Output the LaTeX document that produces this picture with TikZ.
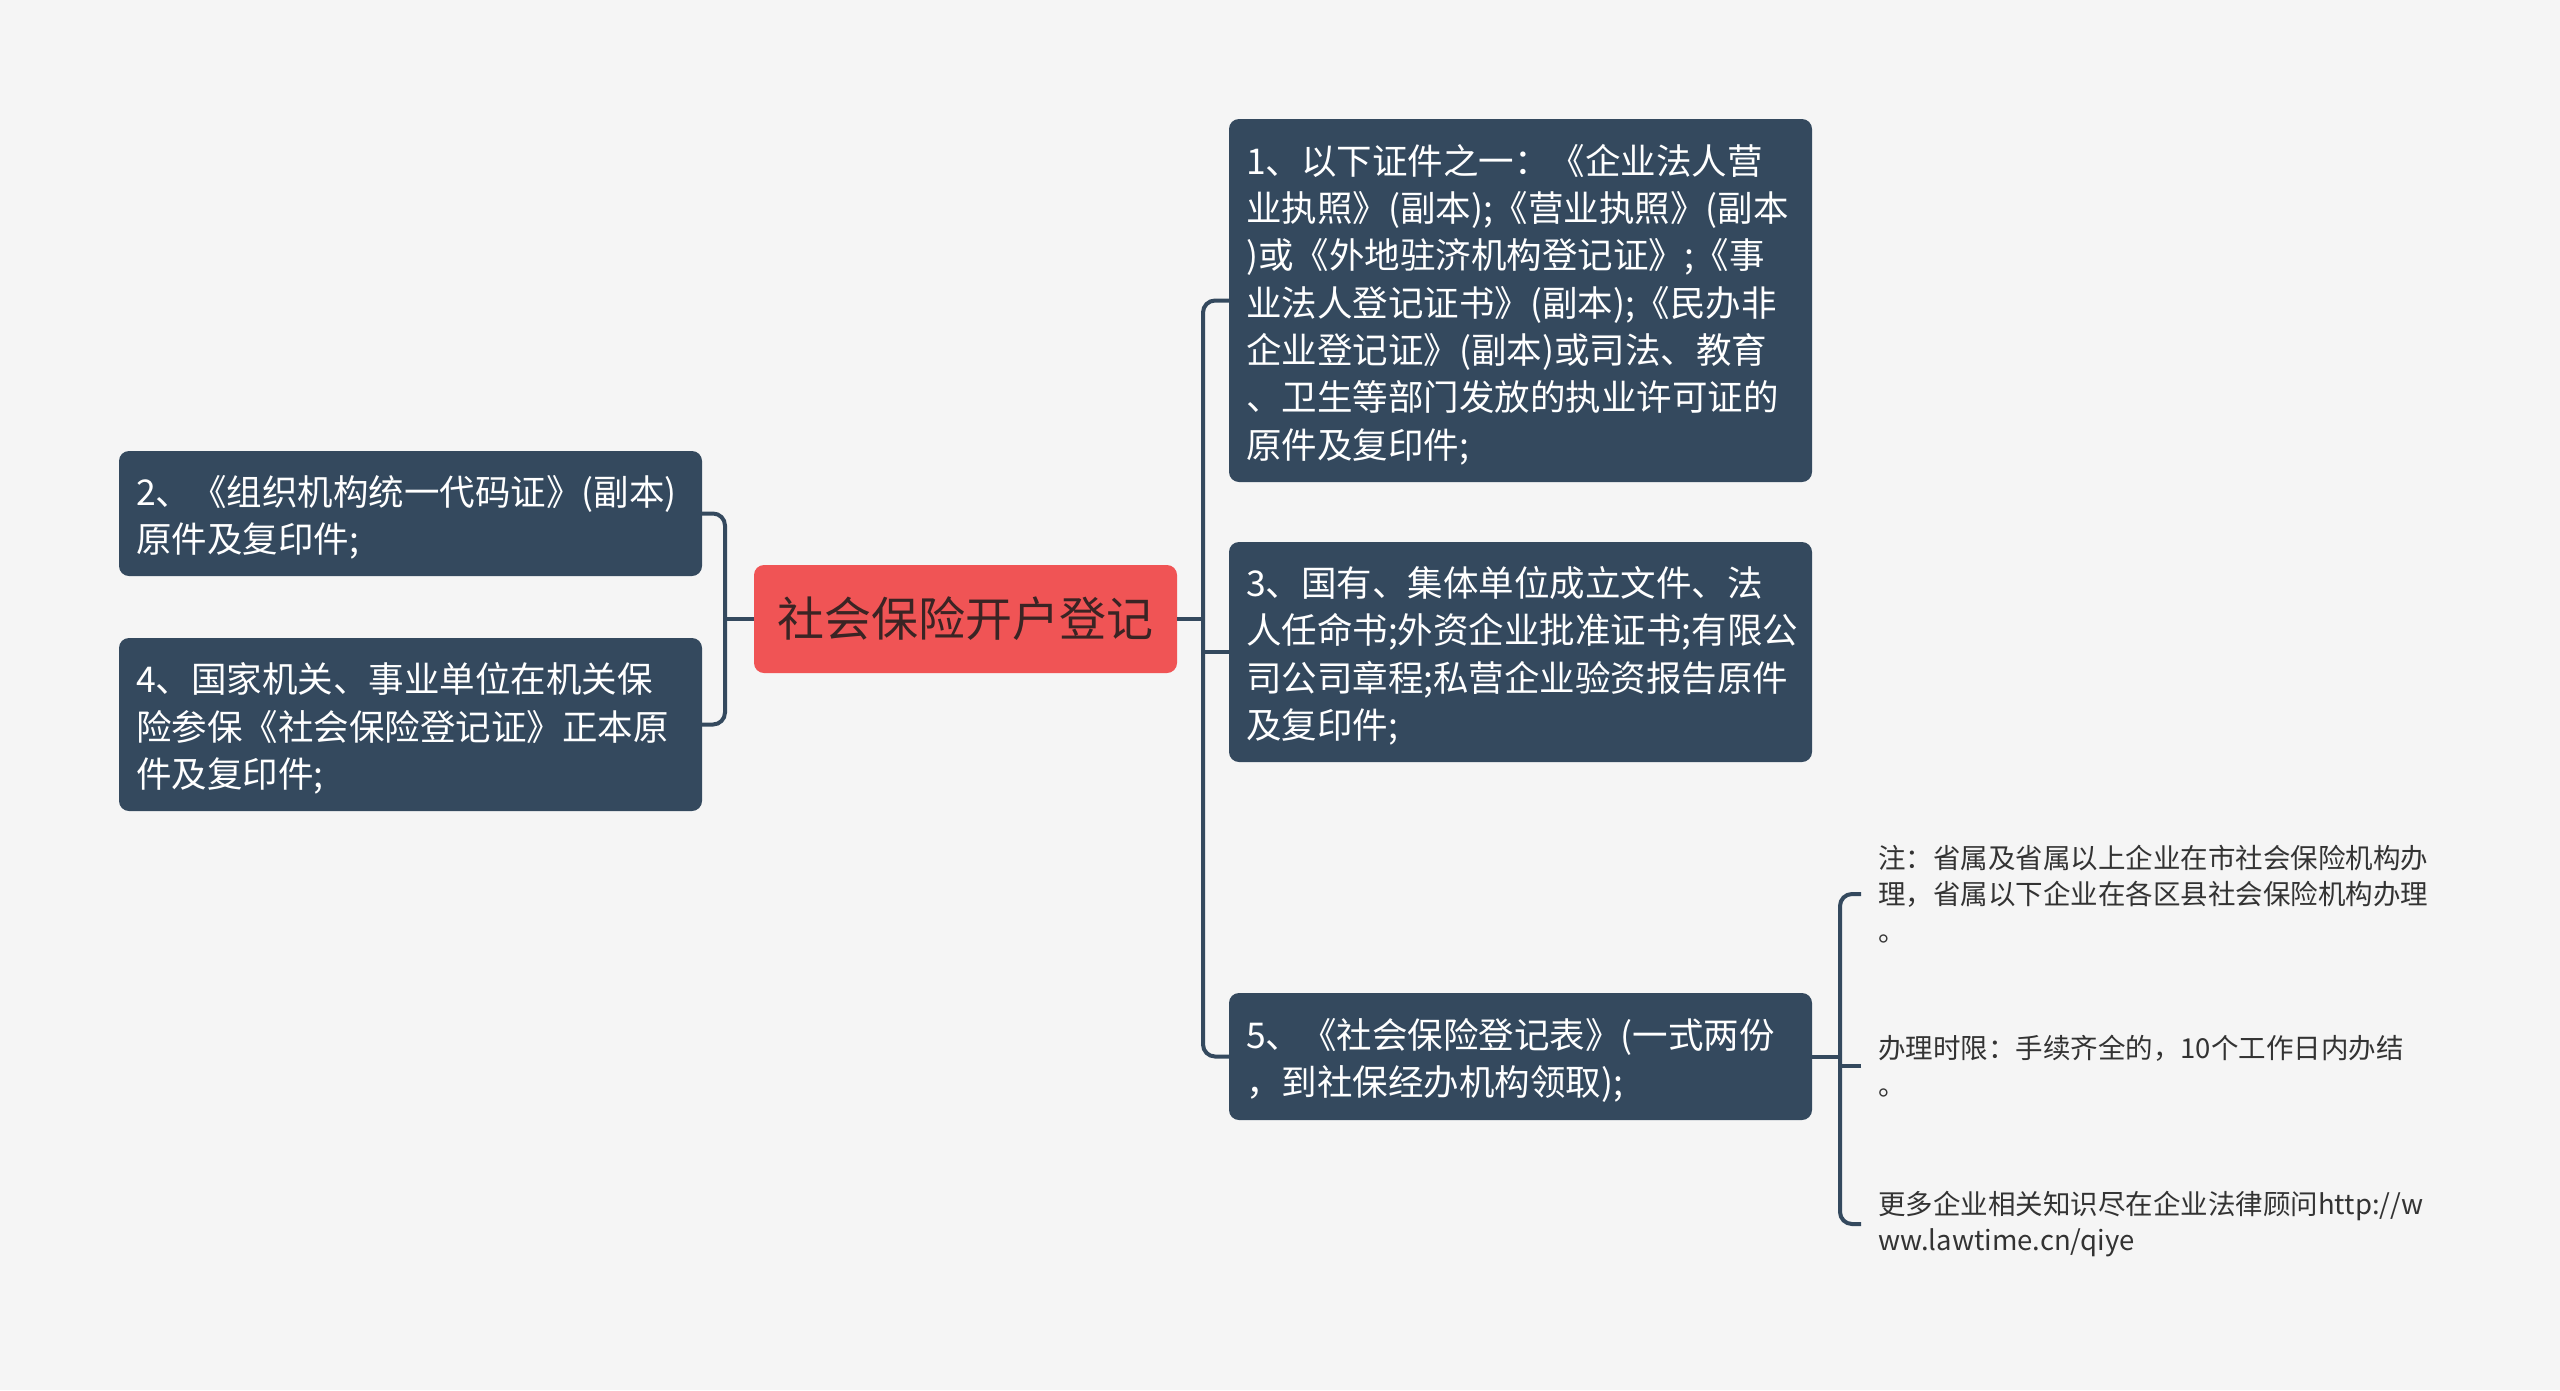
\documentclass[tikz,border=0pt]{standalone}
\usepackage{fontspec}
\setmainfont{Noto Sans CJK SC}
\definecolor{bgcol}{HTML}{F5F5F5}
\definecolor{nodecol}{HTML}{34495E}
\definecolor{rootcol}{HTML}{F05455}
\definecolor{roottext}{HTML}{3A2424}
\definecolor{leaftext}{HTML}{333333}
\tikzset{
  box/.style={fill=nodecol, rounded corners=10pt, text=white,
    font=\fontsize{35.5}{47.3}\selectfont, align=left,
    inner xsep=17pt, inner ysep=8pt, text width=549pt,
    execute at begin node={\rule{0pt}{38pt}}},
  rootbox/.style={fill=rootcol, rounded corners=10pt, text=roottext,
    font=\fontsize{47}{56}\selectfont, minimum width=423pt, minimum height=108pt,
    inner sep=0pt},
  leaf/.style={text=leaftext, font=\fontsize{27.5}{36.5}\selectfont, align=left,
    inner xsep=17pt, inner ysep=2pt, anchor=west},
  conn/.style={draw=nodecol, line width=4pt, rounded corners=12pt}
}
\begin{document}
\begin{tikzpicture}[x=1pt,y=-1pt]
\fill[bgcol] (0,0) rectangle (2560,1390);
\useasboundingbox (0,0) rectangle (2560,1390);

\node[rootbox] (root) at (965.5,619) {社会保险开户登记};

\node[box, minimum height=363pt] (n1) at (1520.5,300.5) {1、以下证件之一：《企业法人营\\业执照》(副本);《营业执照》(副本\\)或《外地驻济机构登记证》;《事\\业法人登记证书》(副本);《民办非\\企业登记证》(副本)或司法、教育\\、卫生等部门发放的执业许可证的\\原件及复印件;};

\node[box, minimum height=220pt] (n3) at (1520.5,652) {3、国有、集体单位成立文件、法\\人任命书;外资企业批准证书;有限公\\司公司章程;私营企业验资报告原件\\及复印件;};

\node[box, minimum height=127pt] (n5) at (1520.5,1056.5) {5、《社会保险登记表》(一式两份\\，到社保经办机构领取);};

\node[box, minimum height=125pt] (n2) at (410.5,513.5) {2、《组织机构统一代码证》(副本)\\原件及复印件;};

\node[box, minimum height=173pt] (n4) at (410.5,724.5) {4、国家机关、事业单位在机关保\\险参保《社会保险登记证》正本原\\件及复印件;};

\node[leaf] (l1) at (1861,894) {注：省属及省属以上企业在市社会保险机构办\\理，省属以下企业在各区县社会保险机构办理\\。};
\node[leaf] (l2) at (1861,1066) {办理时限：手续齐全的，10个工作日内办结\\。};
\node[leaf] (l3) at (1861,1224) {更多企业相关知识尽在企业法律顾问http://w\\ww.lawtime.cn/qiye};

\coordinate (jR) at (1203,619);
\coordinate (jL) at (725,619);
\coordinate (jC) at (1840,1056.5);

\draw[conn] (root.east) -- (jR);
\draw[conn] (n1.west) -| (jR) |- (n5.west);
\draw[conn] (n3.west) -- (n3.west -| jR);

\draw[conn] (root.west) -- (jL);
\draw[conn] (n2.east) -| (jL) |- (n4.east);

\draw[conn] (n5.east) -- (jC);
\draw[conn] (l1.west) -| (jC) |- (l3.west);
\draw[conn] (l2.west) -- (l2.west -| jC);
\end{tikzpicture}
\end{document}
